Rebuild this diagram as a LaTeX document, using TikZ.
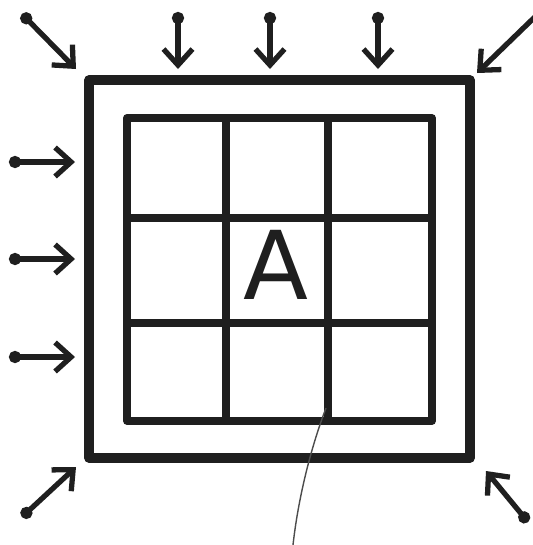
\documentclass[tikz,border=0pt]{standalone}
\usepackage{fontspec}
\setsansfont{DejaVu Sans}
\usetikzlibrary{arrows.meta}
\tikzset{
  wall/.style={line width=2.6pt,line join=round,draw=black!88},
  cellline/.style={line width=2.2pt,line join=round,draw=black!88},
  push/.style={line width=1.5pt,draw=black!88,{Circle[length=1.2mm]}-{Straight Barb[length=1.6mm,width=2.9mm,line width=1.5pt]}},
  pushend/.style={line width=1.5pt,draw=black!88,-{Straight Barb[length=1.6mm,width=2.9mm,line width=1.5pt]}}
}
\begin{document}
\begin{tikzpicture}[x=0.01cm,y=-0.01cm]
\useasboundingbox (0,0) rectangle (533,545);
% outer frame and inner 3x3 block
\draw[wall] (89,80) rectangle (470,458);
\draw[cellline] (127,118) rectangle (432,421);
\foreach \gx in {226,328} {\draw[cellline] (\gx,118) -- (\gx,421);}
\foreach \gy in {218,323} {\draw[cellline] (127,\gy) -- (432,\gy);}
\node[font=\sffamily\fontsize{27}{27}\selectfont,inner sep=0pt,black!88] (cellA) at (276,265) {A};
% loads from above and from the left
\foreach \px [count=\i] in {178,270,378} {
  \coordinate (top\i) at (\px,12);
  \coordinate (topend\i) at (\px,69);
  \draw[push] (top\i) -- (topend\i);
}
\foreach \py [count=\i] in {162,259,357} {
  \coordinate (left\i) at (9,\py);
  \coordinate (leftend\i) at (75,\py);
  \draw[push] (left\i) -- (leftend\i);
}
% corner loads
\coordinate (tl) at (22,14);   \coordinate (tlend) at (76,69);
\coordinate (tr) at (540,12);  \coordinate (trend) at (477,73);
\coordinate (bl) at (22,517);  \coordinate (blend) at (76,467);
\coordinate (br) at (528,522); \coordinate (brend) at (486,471);
\draw[push] (tl) -- (tlend);
\draw[pushend] (tr) -- (trend);
\draw[push] (bl) -- (blend);
\draw[push] (br) -- (brend);
% thin leader line
\coordinate (leadtop) at (326,408);
\coordinate (leadbot) at (293,545);
\draw[line width=0.4pt,black!70] (leadtop) .. controls (310,450) and (298,500) .. (leadbot);
\end{tikzpicture}
\end{document}
